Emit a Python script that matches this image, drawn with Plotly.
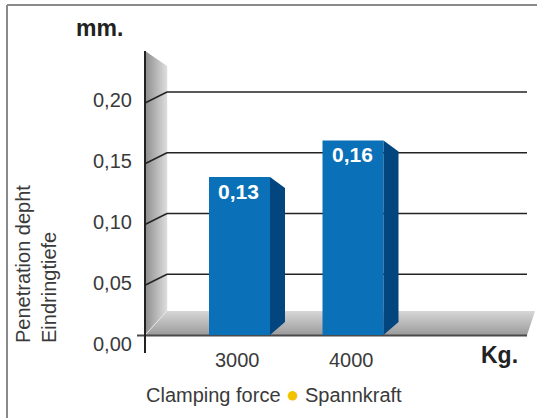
import plotly.graph_objects as go

# ---------------- data ----------------
categories = ["3000", "4000"]
values = [0.13, 0.16]
value_labels = ["0,13", "0,16"]
ytick_vals = [0.00, 0.05, 0.10, 0.15, 0.20]
ytick_labels = ["0,00", "0,05", "0,10", "0,15", "0,20"]
y_title_lines = ["Penetration depht", "Eindringtiefe"]
y_unit = "mm."
x_unit = "Kg."
x_title_en = "Clamping force"
x_title_de = "Spannkraft"

# ---------------- layout constants (pixels) ----------------
W, H = 537, 418
CAT0 = 239.5      # pixel x of first category centre
CAT_PX = 113.5    # pixels per category
ZERO = 335        # pixel y of value 0
UNIT_PX = 1215    # pixels per value unit
BAR_W = 61
SIDE_DX, SIDE_DY = 15, 11
WALL_L, WALL_R = 145, 167
GRID_R = 527
FLOOR_TOP = 311

FONT = "Liberation Sans, Arial, Helvetica, sans-serif"
TXT = "#3a3a3a"
BLUE = "#0A70B8"
BLUE_SIDE = "#03457F"


def px(x):
    return x / W


def py(y):
    return (H - y) / H


def vy(v):
    return ZERO - v * UNIT_PX


def lerp_color(c1, c2, t):
    a = [int(c1[i:i + 2], 16) for i in (1, 3, 5)]
    b = [int(c2[i:i + 2], 16) for i in (1, 3, 5)]
    return "rgb(%d,%d,%d)" % tuple(round(a[k] + (b[k] - a[k]) * t) for k in range(3))


fig = go.Figure()
fig.add_bar(
    x=categories, y=values, width=BAR_W / CAT_PX,
    marker=dict(color=BLUE, line=dict(width=0)),
    hoverinfo="skip",
)

shapes = []
annotations = []

# frame
shapes.append(dict(type="line", xref="paper", yref="paper", x0=px(7), x1=px(540), y0=py(5), y1=py(5),
                   line=dict(color="#8a8a8a", width=2)))
shapes.append(dict(type="line", xref="paper", yref="paper", x0=px(7), x1=px(7), y0=py(5), y1=py(425),
                   line=dict(color="#8a8a8a", width=2)))

# side wall with horizontal gradient (strips)
n = WALL_R - WALL_L
for k in range(n):
    xa, xb = WALL_L + k, WALL_L + k + 1.2
    ta = 51 + (xa - WALL_L) * (15 / n)
    tb = 51 + (xb - WALL_L) * (15 / n)
    ba = ZERO - (xa - WALL_L) * ((ZERO - FLOOR_TOP) / n)
    bb = ZERO - (xb - WALL_L) * ((ZERO - FLOOR_TOP) / n)
    path = "M %f %f L %f %f L %f %f L %f %f Z" % (px(xa), py(ta), px(xb), py(tb), px(xb), py(bb), px(xa), py(ba))
    shapes.append(dict(type="path", xref="paper", yref="paper", path=path, layer="below",
                       fillcolor=lerp_color("#8e8e8e", "#dcdcdc", k / (n - 1)), line=dict(width=0)))

# floor with vertical gradient (strips)
m = ZERO - FLOOR_TOP
for k in range(m):
    ya, yb = FLOOR_TOP + k, FLOOR_TOP + k + 1.2
    la = WALL_R - (ya - FLOOR_TOP) * (n / m)
    lb = WALL_R - (yb - FLOOR_TOP) * (n / m)
    ra = 535 - (ya - FLOOR_TOP) * (8 / m)
    rb = 535 - (yb - FLOOR_TOP) * (8 / m)
    path = "M %f %f L %f %f L %f %f L %f %f Z" % (px(la), py(ya), px(ra), py(ya), px(rb), py(yb), px(lb), py(yb))
    shapes.append(dict(type="path", xref="paper", yref="paper", path=path, layer="below",
                       fillcolor=lerp_color("#d6d6d6", "#9c9c9c", k / (m - 1)), line=dict(width=0)))
shapes.append(dict(type="line", xref="paper", yref="paper", x0=px(WALL_R), y0=py(FLOOR_TOP), x1=px(WALL_L + 1),
                   y1=py(ZERO - 1), layer="below", line=dict(color="#e6e6e6", width=1)))

# gridlines (back wall + diagonal on side wall)
for v in ytick_vals[1:]:
    yb = vy(v)
    shapes.append(dict(type="line", xref="paper", yref="paper", x0=px(WALL_R), x1=px(GRID_R), y0=py(yb), y1=py(yb),
                       layer="below", line=dict(color="#222222", width=1.5)))
    shapes.append(dict(type="line", xref="paper", yref="paper", x0=px(WALL_L), x1=px(WALL_R), y0=py(yb + 11),
                       y1=py(yb), layer="below", line=dict(color="#222222", width=1.5)))

# baseline / floor front edge with tick
shapes.append(dict(type="line", xref="paper", yref="paper", x0=px(137), x1=px(GRID_R), y0=py(ZERO + 0.5),
                   y1=py(ZERO + 0.5), layer="below", line=dict(color="#4a4a4a", width=2)))
# front vertical axis line
shapes.append(dict(type="line", xref="paper", yref="paper", x0=px(WALL_L), x1=px(WALL_L), y0=py(51), y1=py(353),
                   line=dict(color="#222222", width=2)))

# bar side faces, value labels and category labels (from data)
for i, v in enumerate(values):
    xc = CAT0 + i * CAT_PX
    xr = xc + BAR_W / 2
    yt = vy(v)
    path = "M %f %f L %f %f L %f %f L %f %f Z" % (
        px(xr), py(yt), px(xr + SIDE_DX), py(yt + SIDE_DY),
        px(xr + SIDE_DX), py(ZERO - 13), px(xr), py(ZERO))
    shapes.append(dict(type="path", xref="paper", yref="paper", path=path, fillcolor=BLUE_SIDE,
                       line=dict(width=0)))
    annotations.append(dict(x=px(xc - 1), y=py(yt + 14), xref="paper", yref="paper",
                            text="<b>%s</b>" % value_labels[i],
                            showarrow=False, xanchor="center", yanchor="middle",
                            font=dict(family=FONT, size=21, color="white")))
    annotations.append(dict(x=px(xc - 2), y=py(360), xref="paper", yref="paper", text=categories[i],
                            showarrow=False, xanchor="center", yanchor="middle",
                            font=dict(family=FONT, size=20, color=TXT)))

# y tick labels
for v, lab in zip(ytick_vals, ytick_labels):
    annotations.append(dict(x=px(134), y=py(vy(v) + 8.5), xref="paper", yref="paper", text=lab,
                            xanchor="right", yanchor="middle", showarrow=False,
                            font=dict(family=FONT, size=20, color=TXT)))

# units
annotations.append(dict(x=px(74), y=py(28), xref="paper", yref="paper", text="<b>%s</b>" % y_unit,
                        xanchor="left", yanchor="middle", showarrow=False,
                        font=dict(family=FONT, size=23, color="#222222")))
annotations.append(dict(x=px(479), y=py(355), xref="paper", yref="paper", text="<b>%s</b>" % x_unit,
                        xanchor="left", yanchor="middle", showarrow=False,
                        font=dict(family=FONT, size=23, color="#222222")))

# x title with yellow dot
annotations.append(dict(x=px(144), y=py(394), xref="paper", yref="paper",
                        text="%s <span style='color:#F2C200;font-size:22px'>\u25CF</span> %s" % (x_title_en, x_title_de),
                        xanchor="left", yanchor="middle", showarrow=False,
                        font=dict(family=FONT, size=20, color=TXT)))

# y title (rotated, two lines)
annotations.append(dict(x=px(36), y=py(345), xref="paper", yref="paper",
                        text="<br>".join(y_title_lines), textangle=-90, align="left",
                        xanchor="center", yanchor="bottom", showarrow=False,
                        font=dict(family=FONT, size=20, color=TXT)))

fig.update_layout(
    width=W, height=H,
    margin=dict(l=0, r=0, t=0, b=0, pad=0),
    paper_bgcolor="white", plot_bgcolor="white",
    showlegend=False,
    xaxis=dict(type="category", range=[(0 - CAT0) / CAT_PX, (W - CAT0) / CAT_PX], visible=False, fixedrange=True),
    yaxis=dict(range=[(ZERO - H) / UNIT_PX, ZERO / UNIT_PX], visible=False, fixedrange=True),
    shapes=shapes,
    annotations=annotations,
)

fig.write_html("out.html", config={"displayModeBar": False},
               post_script="document.body.style.margin='0px';document.body.style.padding='0px';")
